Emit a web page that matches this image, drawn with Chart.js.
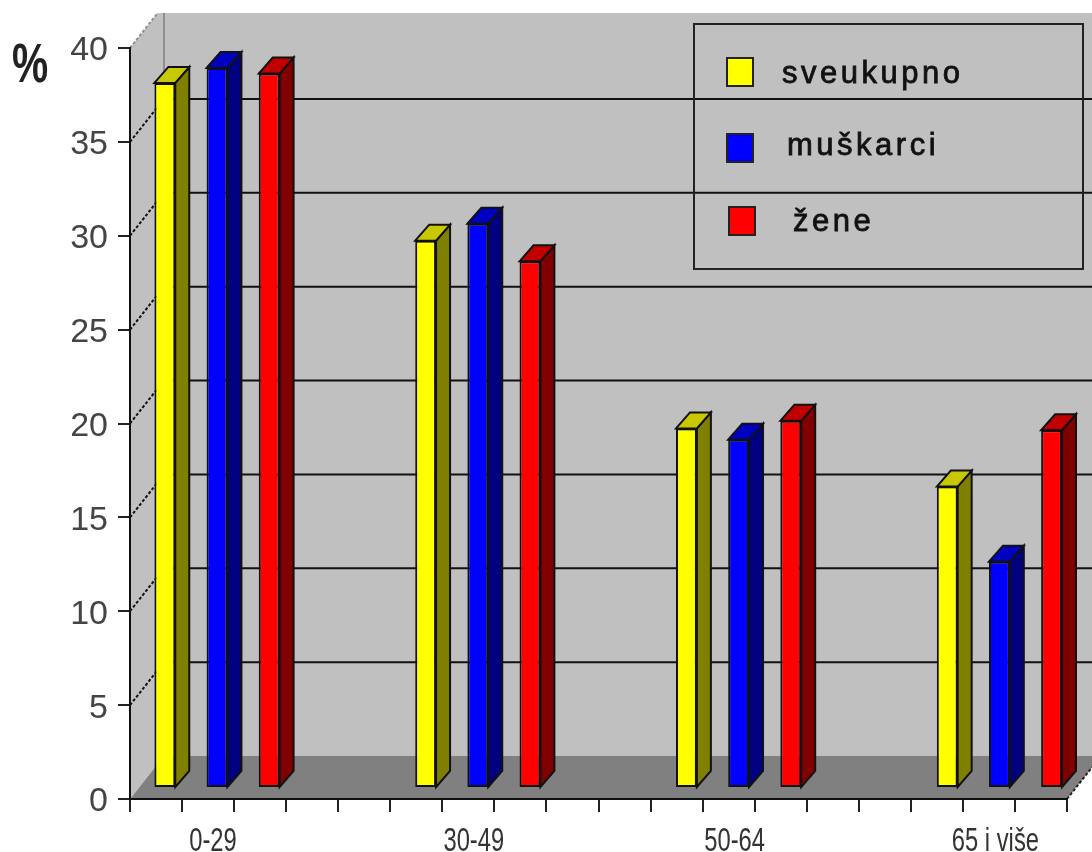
<!DOCTYPE html>
<html>
<head>
<meta charset="utf-8">
<title>Chart</title>
<style>
  html, body { margin: 0; padding: 0; background: #fff; overflow: hidden; }
  canvas { display: block; }
</style>
<script src="https://cdn.jsdelivr.net/npm/chart.js@4"></script>
</head>
<body>
<canvas id="chart" width="1092" height="852"></canvas>
<script>
const categories = ['0-29', '30-49', '50-64', '65 i više'];
const sveukupno = [37.5, 29.1, 19.1, 16.0];
const muskarci = [38.3, 30.0, 18.5, 12.0];
const zene = [38.0, 28.0, 19.5, 19.0];
const seriesNames = ['sveukupno', 'muškarci', 'žene'];
const yTicks = [0, 5, 10, 15, 20, 25, 30, 35, 40];
const xSlots = 18;

const front = ['#ffff00', '#0000ff', '#ff0000'];
const side = ['#808000', '#000080', '#800000'];
const top3d = ['#c8c800', '#0000c0', '#c00000'];

// how far the back wall and the bar tops sit behind the front plane
const wallDx = 34, wallDy = 43;
const barDx = 14, barDy = 16;
const legendRows = [
  { sx: 727, sy: 58, tx: 782, ty: 83 },
  { sx: 727, sy: 134, tx: 787, ty: 155 },
  { sx: 729, sy: 207, tx: 793, ty: 231 }
];

function poly(ctx, pts, fill, stroke, lw) {
  ctx.beginPath();
  pts.forEach((p, i) => i ? ctx.lineTo(p[0], p[1]) : ctx.moveTo(p[0], p[1]));
  ctx.closePath();
  if (fill) { ctx.fillStyle = fill; ctx.fill(); }
  if (stroke) { ctx.strokeStyle = stroke; ctx.lineWidth = lw || 2; ctx.stroke(); }
}

// the source picture is a squeezed scan, so these labels are narrowed by hand
function narrowText(ctx, text, x, y, squeeze) {
  ctx.save();
  ctx.translate(x, y);
  ctx.scale(squeeze, 1);
  ctx.fillText(text, 0, 0);
  ctx.restore();
}

const walls = {
  id: 'walls',
  afterLayout(chart) {
    // bars and group labels run on their own wider band under the tick axis
    const x = chart.scales.x;
    x.left = 86.6;
    x.right = 1129.8;
    x.configure();
  },
  beforeDraw(chart) {
    const { ctx, scales } = chart;
    const y = scales.y;
    const l = scales.xt.left, r = scales.xt.right;
    const y0 = y.getPixelForValue(0), yTop = y.getPixelForValue(40);

    ctx.save();
    ctx.beginPath();
    ctx.rect(0, 13, chart.width, chart.height);
    ctx.clip();

    poly(ctx, [[l, yTop], [l + wallDx, yTop - wallDy], [l + wallDx, y0 - wallDy], [l, y0]], '#c0c0c0');
    poly(ctx, [[l + wallDx, yTop - wallDy], [r + wallDx, yTop - wallDy], [r + wallDx, y0 - wallDy], [l + wallDx, y0 - wallDy]], '#c0c0c0');
    poly(ctx, [[l, y0], [l + wallDx, y0 - wallDy], [r + wallDx, y0 - wallDy], [r, y0]], '#808080');

    ctx.strokeStyle = '#909090';
    ctx.lineWidth = 2;
    ctx.beginPath();
    ctx.moveTo(l + wallDx, yTop - wallDy);
    ctx.lineTo(l + wallDx, y0 - wallDy);
    ctx.stroke();

    yTicks.forEach(v => {
      if (v === 0) return;
      const py = y.getPixelForValue(v);
      ctx.strokeStyle = v === 40 ? '#909090' : '#111';
      ctx.lineWidth = 2;
      ctx.setLineDash([3, 2]);
      ctx.beginPath();
      ctx.moveTo(l, py);
      ctx.lineTo(l + wallDx, py - wallDy);
      ctx.stroke();
      ctx.setLineDash([]);
      ctx.beginPath();
      ctx.moveTo(l + wallDx, py - wallDy);
      ctx.lineTo(chart.width, py - wallDy);
      ctx.stroke();
    });

    // right end of the floor
    ctx.strokeStyle = '#222';
    ctx.setLineDash([3, 2]);
    ctx.beginPath();
    ctx.moveTo(r, y0);
    ctx.lineTo(r + wallDx, y0 - wallDy);
    ctx.stroke();
    ctx.restore();
  },
  afterDatasetsDraw(chart) {
    const ctx = chart.ctx;
    chart.data.datasets.forEach((ds, i) => {
      chart.getDatasetMeta(i).data.forEach(bar => {
        const a = bar.x - bar.width / 2, b = bar.x + bar.width / 2;
        const t = bar.y, base = bar.base;
        poly(ctx, [[b, t], [b + barDx, t - barDy], [b + barDx, base - barDy], [b, base]], side[i], '#111');
        poly(ctx, [[a, t], [a + barDx, t - barDy], [b + barDx, t - barDy], [b, t]], top3d[i], '#111');
      });
    });
  },
  afterDraw(chart) {
    const ctx = chart.ctx;
    ctx.save();
    ctx.strokeStyle = '#222';
    ctx.lineWidth = 2;
    ctx.strokeRect(694, 24, 389, 245);

    ctx.textBaseline = 'alphabetic';
    ctx.textAlign = 'left';
    seriesNames.forEach((name, i) => {
      const row = legendRows[i];
      ctx.fillStyle = front[i];
      ctx.fillRect(row.sx, row.sy, 26, 28);
      ctx.strokeStyle = '#222';
      ctx.lineWidth = 2;
      ctx.strokeRect(row.sx, row.sy, 26, 28);
      ctx.fillStyle = '#111';
      ctx.strokeStyle = '#111';
      ctx.lineWidth = 0.8;
      ctx.font = '31px "Liberation Sans"';
      ctx.letterSpacing = '3.5px';
      ctx.fillText(name, row.tx, row.ty);
      ctx.strokeText(name, row.tx, row.ty);
    });
    ctx.letterSpacing = '0px';

    // group labels under the axis, placed by the category scale
    const x = chart.scales.x;
    ctx.textAlign = 'center';
    ctx.fillStyle = '#333';
    ctx.font = '33px "Liberation Sans"';
    categories.forEach((label, i) => {
      narrowText(ctx, label, x.getPixelForValue(i) - 4, 851, 0.72);
    });

    ctx.textAlign = 'left';
    ctx.fillStyle = '#222';
    ctx.font = 'bold 55px "Liberation Sans"';
    narrowText(ctx, '%', 12, 82, 0.74);
    ctx.restore();
  }
};

new Chart(document.getElementById('chart'), {
  type: 'bar',
  data: {
    labels: categories,
    datasets: [sveukupno, muskarci, zene].map((values, i) => ({
      label: seriesNames[i],
      data: values,
      yAxisID: 'bars',
      backgroundColor: front[i],
      borderColor: '#111',
      borderWidth: 2,
      borderSkipped: false,
      categoryPercentage: 0.6,
      barPercentage: 0.4,
      clip: false
    }))
  },
  options: {
    responsive: false,
    animation: false,
    layout: { padding: { top: 48, right: 25, left: 0, bottom: 0 } },
    plugins: { legend: { display: false }, tooltip: { enabled: false } },
    scales: {
      x: {
        type: 'category',
        position: 'bottom',
        weight: 1,
        grid: { display: false },
        border: { display: false },
        ticks: { display: false, autoSkip: false },
        afterFit(scale) { scale.height = 40; }
      },
      xt: {
        type: 'linear',
        position: 'bottom',
        weight: 0,
        min: 0,
        max: xSlots,
        // bar charts turn offset on for x axes by default
        offset: false,
        grid: { offset: false, drawOnChartArea: false, tickLength: 13, color: '#222', lineWidth: 2 },
        border: { color: '#111', width: 2 },
        ticks: { display: false },
        afterBuildTicks(scale) {
          scale.ticks = Array.from({ length: xSlots + 1 }, (_, v) => ({ value: v }));
        },
        afterFit(scale) { scale.height = 13; }
      },
      y: {
        position: 'left',
        min: 0,
        max: 40,
        grid: { drawOnChartArea: false, tickLength: 12, color: '#222', lineWidth: 2 },
        border: { color: '#111', width: 2 },
        ticks: {
          stepSize: 5,
          padding: 10,
          labelOffset: 3,
          color: '#444',
          font: { family: '"Liberation Sans"', size: 34 }
        },
        afterFit(scale) { scale.width = 130; }
      },
      // same unit as y, zero lifted to where the bars stand on the floor
      bars: {
        display: false,
        min: -0.64,
        max: 39.36
      }
    }
  },
  plugins: [walls]
});
</script>
</body>
</html>
